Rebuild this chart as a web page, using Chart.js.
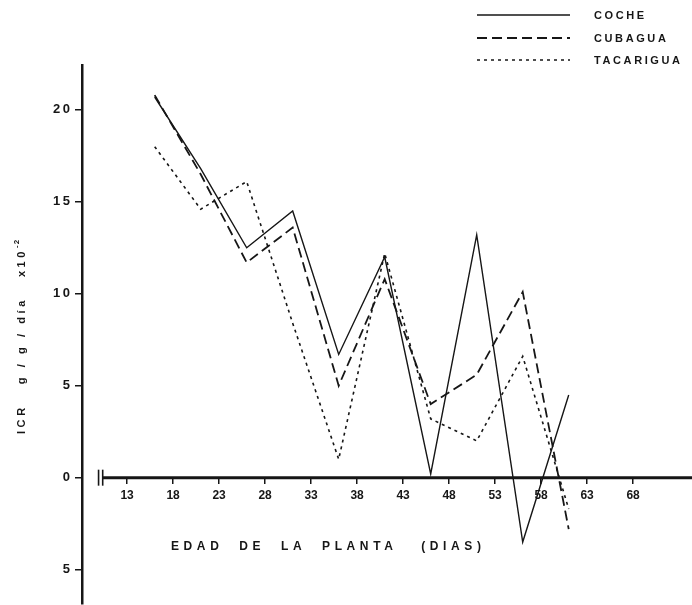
<!DOCTYPE html>
<html>
<head>
<meta charset="utf-8">
<script src="https://cdn.jsdelivr.net/npm/chart.js@4"></script>
<style>
  html, body { margin: 0; padding: 0; background: #fff; overflow: hidden; }
</style>
</head>
<body>
<canvas id="chart" width="692" height="617"></canvas>
<script>
// plant age (days) at which ICR was measured
const dias = [16, 21, 26, 31, 36, 41, 46, 51, 56, 61];
const coche = [20.7, 16.8, 12.5, 14.5, 6.7, 12.0, 0.2, 13.2, -3.5, 4.5];
const cubagua = [20.8, 16.5, 11.7, 13.6, 5.0, 10.8, 4.0, 5.6, 10.1, -2.8];
const tacarigua = [18.0, 14.6, 16.1, 8.4, 1.0, 12.2, 3.2, 2.0, 6.6, -1.7];

const seriesNames = ['COCHE', 'CUBAGUA', 'TACARIGUA'];
const xTicks = [13, 18, 23, 28, 33, 38, 43, 48, 53, 58, 63, 68];
const yTicks = [-5, 0, 5, 10, 15, 20];
const xTitle = 'EDAD  DE  LA  PLANTA   (DIAS)';

const ink = '#161616';
const fam = '"Liberation Sans", Arial, sans-serif';

function pts(vals) {
    return dias.map((d, i) => ({ x: d, y: vals[i] }));
}

// axis line with break, titles and the stacked legend, drawn like the paper figure
const paperDecor = {
    id: 'paperDecor',
    afterDraw(chart) {
        const ctx = chart.ctx;
        const xs = chart.scales.x;
        const ys = chart.scales.y;
        const y0 = ys.getPixelForValue(0);
        const xb1 = xs.getPixelForValue(9.9);
        const xb2 = xs.getPixelForValue(10.35);

        ctx.save();
        ctx.strokeStyle = ink;
        ctx.fillStyle = ink;

        // x axis line
        ctx.lineWidth = 3;
        ctx.beginPath();
        ctx.moveTo(xb2, y0);
        ctx.lineTo(chart.chartArea.right, y0);
        ctx.stroke();

        // break marks
        ctx.lineWidth = 1.6;
        [xb1, xb2].forEach(x => {
            ctx.beginPath();
            ctx.moveTo(x, y0 - 8);
            ctx.lineTo(x, y0 + 8);
            ctx.stroke();
        });

        // x title
        ctx.font = 'bold 12px ' + fam;
        ctx.letterSpacing = '4.6px';
        ctx.textAlign = 'left';
        ctx.textBaseline = 'middle';
        ctx.fillText(xTitle, 171, 547);

        // y title, rotated
        ctx.save();
        ctx.translate(22, 336);
        ctx.rotate(-Math.PI / 2);
        ctx.font = 'bold 11px ' + fam;
        ctx.letterSpacing = '3.6px';
        const txt = 'ICR   g / g / día   x10';
        const supW = 10;
        const w = ctx.measureText(txt).width + supW;
        let x = -w / 2;
        ctx.textAlign = 'left';
        ctx.fillText(txt, x, 0);
        x += ctx.measureText(txt).width;
        ctx.font = 'bold 8px ' + fam;
        ctx.letterSpacing = '1px';
        ctx.fillText('-2', x, -5);
        ctx.restore();

        // legend
        const rows = [15, 38, 60];
        ctx.font = 'bold 11px ' + fam;
        ctx.letterSpacing = '2.6px';
        ctx.textBaseline = 'middle';
        chart.data.datasets.forEach((ds, i) => {
            ctx.lineWidth = ds.borderWidth;
            ctx.setLineDash(ds.borderDash || []);
            ctx.beginPath();
            ctx.moveTo(477, rows[i]);
            ctx.lineTo(570, rows[i]);
            ctx.stroke();
            ctx.setLineDash([]);
            ctx.fillText(ds.label, 594, rows[i] + 1);
        });
        ctx.restore();
    }
};

new Chart(document.getElementById('chart'), {
    type: 'line',
    data: {
        datasets: [
            { label: seriesNames[0], data: pts(coche), borderColor: ink, borderWidth: 1.4, borderDash: [] },
            { label: seriesNames[1], data: pts(cubagua), borderColor: ink, borderWidth: 1.8, borderDash: [10, 5] },
            { label: seriesNames[2], data: pts(tacarigua), borderColor: ink, borderWidth: 1.6, borderDash: [3, 4] }
        ]
    },
    options: {
        responsive: false,
        devicePixelRatio: 1,
        animation: false,
        layout: { padding: { top: 65, left: 0, right: 0, bottom: 0 } },
        elements: { point: { radius: 0 }, line: { tension: 0 } },
        plugins: {
            legend: { display: false },
            tooltip: { enabled: false }
        },
        scales: {
            x: {
                type: 'linear',
                position: { y: 0 },
                min: 8.1,
                max: 74.4,
                afterBuildTicks: s => { s.ticks = xTicks.map(v => ({ value: v })); },
                border: { display: false },
                grid: { drawOnChartArea: false, tickLength: 6, color: ink, lineWidth: 1.5 },
                ticks: {
                    color: ink,
                    padding: 5,
                    maxRotation: 0,
                    autoSkip: false,
                    font: { family: fam, size: 12, weight: 'bold' }
                }
            },
            y: {
                type: 'linear',
                position: 'left',
                min: -6.88,
                max: 22.44,
                afterBuildTicks: s => { s.ticks = yTicks.map(v => ({ value: v })); },
                afterFit: s => { s.width = 82; },
                border: { color: ink, width: 2.5 },
                grid: { drawOnChartArea: false, tickLength: 7, color: ink, lineWidth: 1.5 },
                ticks: {
                    color: ink,
                    padding: 5,
                    font: { family: fam, size: 13, weight: 'bold' },
                    callback: v => String(Math.abs(v)).split('').join('\u2009')
                }
            }
        }
    },
    plugins: [paperDecor]
});
</script>
</body>
</html>
